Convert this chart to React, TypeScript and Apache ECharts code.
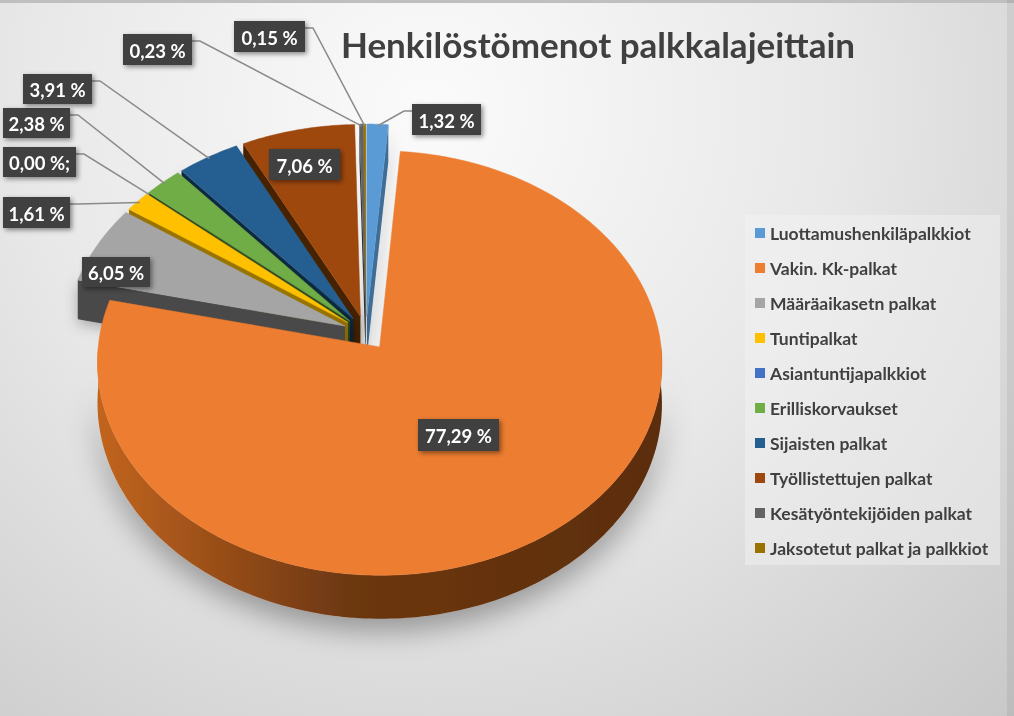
import React, { useEffect, useRef } from 'react';
import * as echarts from 'echarts';

// chart data
const categories = [
  'Luottamushenkiläpalkkiot',
  'Vakin. Kk-palkat',
  'Määräaikasetn palkat',
  'Tuntipalkat',
  'Asiantuntijapalkkiot',
  'Erilliskorvaukset',
  'Sijaisten palkat',
  'Työllistettujen palkat',
  'Kesätyöntekijöiden palkat',
  'Jaksotetut palkat ja palkkiot',
];
const shares = [1.32, 77.29, 6.05, 1.61, 0.0, 2.38, 3.91, 7.06, 0.23, 0.15];
const labelTexts = ['1,32 %', '77,29 %', '6,05 %', '1,61 %', '0,00 %;', '2,38 %', '3,91 %', '7,06 %', '0,23 %', '0,15 %'];

const colors = ['#5B9BD5', '#ED7D31', '#A5A5A5', '#FFC000', '#4472C4', '#70AD47', '#255E91', '#9E480E', '#636363', '#997300'];

// label boxes [x, y, w, h] and whether a leader line is drawn
const labelBoxes: [number, number, number, number, boolean][] = [
  [412, 104, 69, 31, true],
  [418, 419, 81, 32, false],
  [82, 257, 68, 30, false],
  [3, 197, 67, 31, true],
  [3, 147, 73, 30, true],
  [3, 108, 67, 30, true],
  [23, 74, 69, 30, true],
  [269, 149, 71, 31, false],
  [123, 34, 69, 31, true],
  [234, 21, 71, 31, true],
];

// 3d pie geometry
const CX = 366;
const CY = 333;
const R = 280;
const TILT = 0.746;
const DEPTH = 40;
const EXPLODE = 23;
const PERSP = 0.00027;
const FONT = 'Lato, "Open Sans", sans-serif';

const total = shares.reduce((a, b) => a + b, 0);
const starts: number[] = [];
shares.reduce((acc, v, i) => {
  starts[i] = acc;
  return acc + v;
}, 0);

const angleOf = (v: number) => (v / total) * Math.PI * 2;
const mids = shares.map((v, i) => angleOf(starts[i]) + angleOf(v) / 2);
// back slices first
const order = mids.map((m, i) => i).sort((a, b) => Math.cos(mids[b]) - Math.cos(mids[a]));
const rank: number[] = [];
order.forEach((idx, r) => (rank[idx] = r));

function project(X: number, Z: number, H: number): number[] {
  const s = 1 / (1 + PERSP * Z);
  return [CX + X * s, CY - Z * TILT * s + H * s];
}

function shade(hex: string, f: number): string {
  const n = parseInt(hex.slice(1), 16);
  const r = Math.round(((n >> 16) & 255) * f);
  const g = Math.round(((n >> 8) & 255) * f);
  const b = Math.round((n & 255) * f);
  return `rgb(${r},${g},${b})`;
}

const makeRender = (i: number) => (_params: any, api: any) => {
  const v = api.value(1) as number;
  const a0 = angleOf(starts[i]);
  const a1 = a0 + angleOf(v);
  const mid = (a0 + a1) / 2;
  const ox = EXPLODE * Math.sin(mid);
  const oz = EXPLODE * Math.cos(mid);
  const pt = (ang: number, r: number, h: number) =>
    project(ox + r * Math.sin(ang), oz + r * Math.cos(ang), h);
  const arc = (from: number, to: number, h: number) => {
    const n = Math.max(2, Math.ceil((to - from) / (Math.PI / 180)));
    const pts: number[][] = [];
    for (let k = 0; k <= n; k++) pts.push(pt(from + ((to - from) * k) / n, R, h));
    return pts;
  };
  const base = rank[i] * 10;
  const children: any[] = [];
  const wallShadow = { shadowBlur: 14, shadowColor: 'rgba(0,0,0,0.28)', shadowOffsetY: 4 };

  if (v > 0) {
    const w0 = Math.max(a0, Math.PI / 2);
    const w1 = Math.min(a1, Math.PI * 1.5);
    if (w1 > w0) {
      const pts = arc(w0, w1, 0).concat(arc(w0, w1, DEPTH).reverse());
      const fill =
        i === 1
          ? new echarts.graphic.LinearGradient(0, 0, 1, 0, [
              { offset: 0, color: '#c2651f' },
              { offset: 0.28, color: '#8c4716' },
              { offset: 0.45, color: '#6c3711' },
              { offset: 1, color: '#5c2d0e' },
            ])
          : shade(colors[i], 0.55);
      children.push({
        type: 'polygon',
        z2: base + 1,
        shape: { points: pts },
        style: { fill, shadowBlur: 30, shadowColor: 'rgba(0,0,0,0.35)', shadowOffsetY: 12 },
      });
    }
    if (Math.sin(a0) < -1e-6) {
      children.push({
        type: 'polygon',
        z2: base + 2,
        shape: { points: [pt(a0, 0, 0), pt(a0, R, 0), pt(a0, R, DEPTH), pt(a0, 0, DEPTH)] },
        style: { fill: shade(colors[i], i === 3 ? 0.6 : 0.45), ...wallShadow },
      });
    }
    if (Math.sin(a1) > 1e-6) {
      children.push({
        type: 'polygon',
        z2: base + 2,
        shape: { points: [pt(a1, 0, 0), pt(a1, R, 0), pt(a1, R, DEPTH), pt(a1, 0, DEPTH)] },
        style: { fill: shade(colors[i], 0.7), ...wallShadow },
      });
    }
    children.push({
      type: 'polygon',
      z2: base + 5,
      shape: { points: [pt(0, 0, 0)].concat(arc(a0, a1, 0)) },
      style: { fill: colors[i], stroke: colors[i], lineWidth: 0.5 },
    });
  }

  const [bx, by, bw, bh, leader] = labelBoxes[i];
  if (leader) {
    const anchor = pt(v > 0 ? mid : a0, R * 0.99, 0);
    const leftSide = bx + bw / 2 < anchor[0];
    const sx = leftSide ? bx + bw : bx;
    const sy = by + 7;
    const stub = leftSide ? sx + 8 : sx - 8;
    children.push({
      type: 'polyline',
      z2: 900,
      shape: { points: [[sx, sy], [stub, sy], anchor] },
      style: { stroke: '#8a8a8a', lineWidth: 1.5, fill: null },
    });
  }
  children.push({
    type: 'rect',
    z2: 1000,
    shape: { x: bx, y: by, width: bw, height: bh },
    style: {
      fill: '#404040',
      shadowBlur: 5,
      shadowOffsetX: 2,
      shadowOffsetY: 2,
      shadowColor: 'rgba(0,0,0,0.45)',
    },
  });
  children.push({
    type: 'text',
    z2: 1001,
    x: bx + bw / 2,
    y: by + bh / 2 + 1,
    style: {
      text: labelTexts[i],
      fill: '#ffffff',
      fontFamily: FONT,
      fontWeight: 'bold',
      fontSize: 18.5,
      align: 'center',
      verticalAlign: 'middle',
    },
  });
  return { type: 'group', children };
};

const App: React.FC = () => {
  const chartRef = useRef<HTMLDivElement>(null);

  useEffect(() => {
    if (!chartRef.current) return;
    const chart = echarts.init(chartRef.current, undefined, { renderer: 'svg' });

    const option: echarts.EChartsOption = {
      animation: false,
      color: colors,
      title: {
        text: 'Henkilöstömenot palkkalajeittain',
        left: 336,
        top: 21,
        textStyle: { fontFamily: FONT, fontWeight: 'bold', fontSize: 35, color: '#404040' },
      },
      legend: {
        orient: 'vertical',
        left: 750,
        top: 219,
        itemWidth: 10,
        itemHeight: 10,
        itemGap: 17,
        icon: 'rect',
        selectedMode: false,
        data: categories,
        textStyle: {
          fontFamily: FONT,
          fontWeight: 'bold',
          fontSize: 17.5,
          lineHeight: 18,
          color: '#404040',
        },
      },
      graphic: [
        {
          type: 'rect',
          z: -10,
          silent: true,
          shape: { x: 0, y: 0, width: 1014, height: 716 },
          style: {
            fill: new echarts.graphic.RadialGradient(
              430,
              110,
              900,
              [
                { offset: 0, color: '#fbfbfb' },
                { offset: 0.45, color: '#e8e8e8' },
                { offset: 1, color: '#c4c4c4' },
              ],
              true
            ),
          },
        },
        {
          type: 'rect',
          z: -9,
          silent: true,
          shape: { x: 0, y: 0, width: 1014, height: 3 },
          style: { fill: '#bfbfbf' },
        },
        {
          type: 'rect',
          z: -9,
          silent: true,
          shape: { x: 1007, y: 0, width: 7, height: 716 },
          style: { fill: 'rgba(0,0,0,0.06)' },
        },
        {
          type: 'rect',
          z: -8,
          silent: true,
          shape: { x: 745, y: 215, width: 255, height: 350 },
          style: { fill: 'rgba(245,245,245,0.45)' },
        },
      ],
      series: categories.map((name, i) => ({
        type: 'custom',
        name,
        coordinateSystem: 'none',
        silent: true,
        itemStyle: { color: colors[i] },
        renderItem: makeRender(i) as any,
        data: [[i, shares[i]]],
      })),
    };

    chart.setOption(option);

    const handleResize = () => chart.resize();
    window.addEventListener('resize', handleResize);
    return () => {
      window.removeEventListener('resize', handleResize);
      chart.dispose();
    };
  }, []);

  return (
    <div
      ref={chartRef}
      style={{ position: 'fixed', left: 0, top: 0, width: 1014, height: 716 }}
    />
  );
};

export default App;
